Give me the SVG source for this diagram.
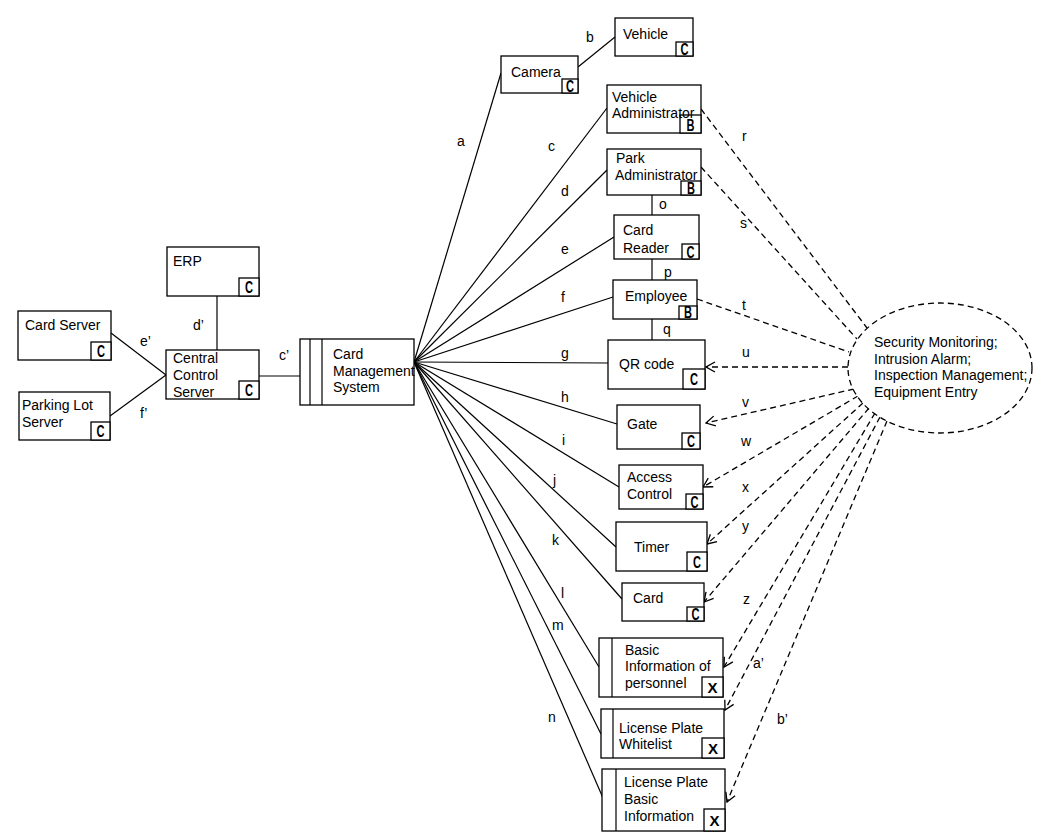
<svg xmlns="http://www.w3.org/2000/svg" width="1052" height="838" viewBox="0 0 1052 838">
<style>
.box{fill:#fff;stroke:#000;stroke-width:1.3}
.t{font-family:"Liberation Sans",Arial,sans-serif;font-size:14px;fill:#000}
.bc{font-family:"Liberation Sans",Arial,sans-serif;font-weight:bold;font-size:16px;text-anchor:middle;fill:#000}
.bx{font-family:"Liberation Sans",Arial,sans-serif;font-weight:bold;font-size:15px;text-anchor:middle;fill:#000}
.ln{stroke:#000;stroke-width:1.2;fill:none}
.dl{stroke:#000;stroke-width:1.3;stroke-dasharray:6 4;fill:none}
.lb{font-family:"Liberation Sans",Arial,sans-serif;font-size:14px;fill:#000}
</style>
<defs>
<marker id="arr" markerUnits="userSpaceOnUse" markerWidth="12" markerHeight="12" viewBox="0 0 12 12" refX="11" refY="6" orient="auto">
<path d="M2,1 L11,6 L2,11" fill="none" stroke="#000" stroke-width="1.3" stroke-dasharray="none"/>
</marker>
</defs>
<rect width="1052" height="838" fill="#fff"/>

<g id="connectors">
<line class="ln" x1="414" y1="362" x2="501" y2="73"/>
<line class="ln" x1="578" y1="67" x2="615" y2="37"/>
<line class="ln" x1="414" y1="362" x2="607" y2="108"/>
<line class="ln" x1="414" y1="362" x2="607" y2="170"/>
<line class="ln" x1="414" y1="362" x2="614" y2="237"/>
<line class="ln" x1="414" y1="362" x2="613" y2="297"/>
<line class="ln" x1="414" y1="362" x2="608" y2="363"/>
<line class="ln" x1="414" y1="362" x2="617" y2="424"/>
<line class="ln" x1="414" y1="362" x2="619" y2="487"/>
<line class="ln" x1="414" y1="362" x2="616" y2="547"/>
<line class="ln" x1="414" y1="362" x2="622" y2="599"/>
<line class="ln" x1="414" y1="362" x2="599" y2="667"/>
<line class="ln" x1="414" y1="362" x2="601" y2="734"/>
<line class="ln" x1="414" y1="362" x2="603" y2="798"/>
<line class="ln" x1="652" y1="195" x2="652" y2="215"/>
<line class="ln" x1="652" y1="259" x2="652" y2="280"/>
<line class="ln" x1="652" y1="319" x2="652" y2="340"/>
<line class="ln" x1="259" y1="376" x2="300" y2="376"/>
<line class="ln" x1="217" y1="296" x2="217" y2="350"/>
<line class="ln" x1="111" y1="333" x2="166" y2="375"/>
<line class="ln" x1="110" y1="416" x2="166" y2="375"/>
<line class="dl" x1="701" y1="109" x2="867" y2="328"/>
<line class="dl" x1="701" y1="167" x2="857" y2="339"/>
<line class="dl" x1="697" y1="299" x2="849" y2="352"/>
<line class="dl" x1="848" y1="367" x2="706" y2="367" marker-end="url(#arr)"/>
<line class="dl" x1="854" y1="389" x2="706" y2="423" marker-end="url(#arr)"/>
<line class="dl" x1="858" y1="396" x2="703" y2="487" marker-end="url(#arr)"/>
<line class="dl" x1="863" y1="403" x2="707" y2="544" marker-end="url(#arr)"/>
<line class="dl" x1="869" y1="408" x2="704" y2="602" marker-end="url(#arr)"/>
<line class="dl" x1="875" y1="413" x2="724" y2="667" marker-end="url(#arr)"/>
<line class="dl" x1="880" y1="417" x2="725" y2="710" marker-end="url(#arr)"/>
<line class="dl" x1="887" y1="421" x2="727" y2="802" marker-end="url(#arr)"/>
<g>
<text class="lb" x="457" y="146">a</text>
<text class="lb" x="586" y="42">b</text>
<text class="lb" x="548" y="151">c</text>
<text class="lb" x="561" y="196">d</text>
<text class="lb" x="561" y="254">e</text>
<text class="lb" x="561" y="302">f</text>
<text class="lb" x="561" y="358">g</text>
<text class="lb" x="561" y="402">h</text>
<text class="lb" x="562" y="445">i</text>
<text class="lb" x="553" y="485">j</text>
<text class="lb" x="552" y="545">k</text>
<text class="lb" x="561" y="598">l</text>
<text class="lb" x="552" y="630">m</text>
<text class="lb" x="548" y="722">n</text>
<text class="lb" x="659" y="209">o</text>
<text class="lb" x="664" y="277">p</text>
<text class="lb" x="663" y="334">q</text>
<text class="lb" x="742" y="141">r</text>
<text class="lb" x="740" y="228">s</text>
<text class="lb" x="742" y="310">t</text>
<text class="lb" x="742" y="357">u</text>
<text class="lb" x="742" y="407">v</text>
<text class="lb" x="741" y="446">w</text>
<text class="lb" x="742" y="492">x</text>
<text class="lb" x="742" y="531">y</text>
<text class="lb" x="743" y="604">z</text>
<text class="lb" x="753" y="668">a’</text>
<text class="lb" x="777" y="724">b’</text>
<text class="lb" x="279" y="360">c’</text>
<text class="lb" x="193" y="330">d’</text>
<text class="lb" x="140" y="346">e’</text>
<text class="lb" x="140" y="418">f’</text>
</g>
</g>

<g id="vehicle"><rect class="box" x="615" y="18" width="78" height="38"/><rect class="box" x="676" y="42" width="17" height="14"/><text class="bc" x="684.5" y="55" textLength="8" lengthAdjust="spacingAndGlyphs">C</text><text class="t" x="623" y="39">Vehicle</text></g>
<g id="camera"><rect class="box" x="501" y="56" width="77" height="37"/><rect class="box" x="562" y="79" width="16" height="14"/><text class="bc" x="570" y="92" textLength="8" lengthAdjust="spacingAndGlyphs">C</text><text class="t" x="511" y="77">Camera</text></g>
<g id="vehicle-admin"><rect class="box" x="607" y="85" width="94" height="48"/><rect class="box" x="680" y="115" width="21" height="18"/><text class="t" x="612" y="102">Vehicle</text><text class="t" x="612" y="118">Administrator</text><text class="bc" x="690.5" y="131" textLength="8" lengthAdjust="spacingAndGlyphs">B</text></g>
<g id="park-admin"><rect class="box" x="607" y="149" width="94" height="46"/><rect class="box" x="681" y="181" width="20" height="14"/><text class="t" x="616" y="163">Park</text><text class="t" x="615" y="180">Administrator</text><text class="bc" x="691" y="194" textLength="8" lengthAdjust="spacingAndGlyphs">B</text></g>
<g id="card-reader"><rect class="box" x="614" y="215" width="85" height="44"/><rect class="box" x="682" y="244" width="17" height="15"/><text class="bc" x="690.5" y="258" textLength="8" lengthAdjust="spacingAndGlyphs">C</text><text class="t" x="623" y="235">Card</text><text class="t" x="623" y="253">Reader</text></g>
<g id="employee"><rect class="box" x="613" y="280" width="84" height="39"/><rect class="box" x="679" y="306" width="18" height="13"/><text class="bc" x="688" y="318" textLength="8" lengthAdjust="spacingAndGlyphs">B</text><text class="t" x="625" y="301">Employee</text></g>
<g id="qr-code"><rect class="box" x="608" y="340" width="97" height="49"/><rect class="box" x="683" y="369" width="22" height="20"/><text class="bc" x="694" y="385" textLength="8" lengthAdjust="spacingAndGlyphs">C</text><text class="t" x="619" y="369">QR code</text></g>
<g id="gate"><rect class="box" x="617" y="405" width="83" height="44"/><rect class="box" x="682" y="433" width="18" height="16"/><text class="bc" x="691" y="447" textLength="8" lengthAdjust="spacingAndGlyphs">C</text><text class="t" x="627" y="429">Gate</text></g>
<g id="access-control"><rect class="box" x="619" y="465" width="84" height="44"/><rect class="box" x="686" y="494" width="17" height="15"/><text class="bc" x="694.5" y="508" textLength="8" lengthAdjust="spacingAndGlyphs">C</text><text class="t" x="627" y="482">Access</text><text class="t" x="627" y="499">Control</text></g>
<g id="timer"><rect class="box" x="616" y="522" width="91" height="49"/><rect class="box" x="687" y="552" width="20" height="19"/><text class="bc" x="697" y="568" textLength="8" lengthAdjust="spacingAndGlyphs">C</text><text class="t" x="634" y="552">Timer</text></g>
<g id="card"><rect class="box" x="622" y="583" width="82" height="38"/><rect class="box" x="687" y="607" width="17" height="14"/><text class="bc" x="695.5" y="620" textLength="8" lengthAdjust="spacingAndGlyphs">C</text><text class="t" x="633" y="603">Card</text></g>
<g id="basic-info-personnel"><rect class="box" x="599" y="638" width="124" height="59"/><line class="ln" x1="612" y1="638" x2="612" y2="697"/><rect class="box" x="702" y="677" width="21" height="20"/><text class="bx" x="712.5" y="693">X</text><text class="t" x="625" y="655">Basic</text><text class="t" x="625" y="671">Information of</text><text class="t" x="625" y="688">personnel</text></g>
<g id="plate-whitelist"><rect class="box" x="601" y="709" width="123" height="49"/><line class="ln" x1="613" y1="709" x2="613" y2="758"/><rect class="box" x="702" y="738" width="22" height="20"/><text class="bx" x="713" y="754">X</text><text class="t" x="619" y="733">License Plate</text><text class="t" x="619" y="749">Whitelist</text></g>
<g id="plate-basic-info"><rect class="box" x="602" y="769" width="123" height="62"/><line class="ln" x1="616" y1="769" x2="616" y2="831"/><rect class="box" x="704" y="809" width="21" height="22"/><text class="bx" x="714.5" y="826">X</text><text class="t" x="624" y="787">License Plate</text><text class="t" x="624" y="804">Basic</text><text class="t" x="624" y="821">Information</text></g>
<g id="erp"><rect class="box" x="167" y="247" width="92" height="49"/><rect class="box" x="239" y="278" width="20" height="18"/><text class="bc" x="249" y="293" textLength="8" lengthAdjust="spacingAndGlyphs">C</text><text class="t" x="173" y="266">ERP</text></g>
<g id="card-server"><rect class="box" x="18" y="311" width="93" height="49"/><rect class="box" x="91" y="342" width="20" height="18"/><text class="bc" x="101" y="357" textLength="8" lengthAdjust="spacingAndGlyphs">C</text><text class="t" x="25" y="330">Card Server</text></g>
<g id="central-control"><rect class="box" x="166" y="350" width="93" height="49"/><rect class="box" x="239" y="381" width="20" height="18"/><text class="bc" x="249" y="396" textLength="8" lengthAdjust="spacingAndGlyphs">C</text><text class="t" x="173" y="363">Central</text><text class="t" x="173" y="380">Control</text><text class="t" x="173" y="397">Server</text></g>
<g id="parking-lot-server"><rect class="box" x="19" y="392" width="91" height="48"/><rect class="box" x="91" y="422" width="19" height="18"/><text class="bc" x="100.5" y="437" textLength="8" lengthAdjust="spacingAndGlyphs">C</text><text class="t" x="22" y="410">Parking Lot</text><text class="t" x="22" y="427">Server</text></g>
<g id="card-mgmt"><rect class="box" x="300" y="339" width="114" height="66"/><line class="ln" x1="310" y1="339" x2="310" y2="405"/><line class="ln" x1="322" y1="339" x2="322" y2="405"/><text class="t" x="333" y="359">Card</text><text class="t" x="333" y="376">Management</text><text class="t" x="333" y="392">System</text></g>
<g id="security"><ellipse cx="940" cy="368" rx="92" ry="65" fill="#fff" stroke="#000" stroke-width="1.3" stroke-dasharray="6 4"/><text class="t" x="874" y="347">Security Monitoring;</text><text class="t" x="874" y="364">Intrusion Alarm;</text><text class="t" x="874" y="380">Inspection Management;</text><text class="t" x="874" y="397">Equipment Entry</text></g>
</svg>
